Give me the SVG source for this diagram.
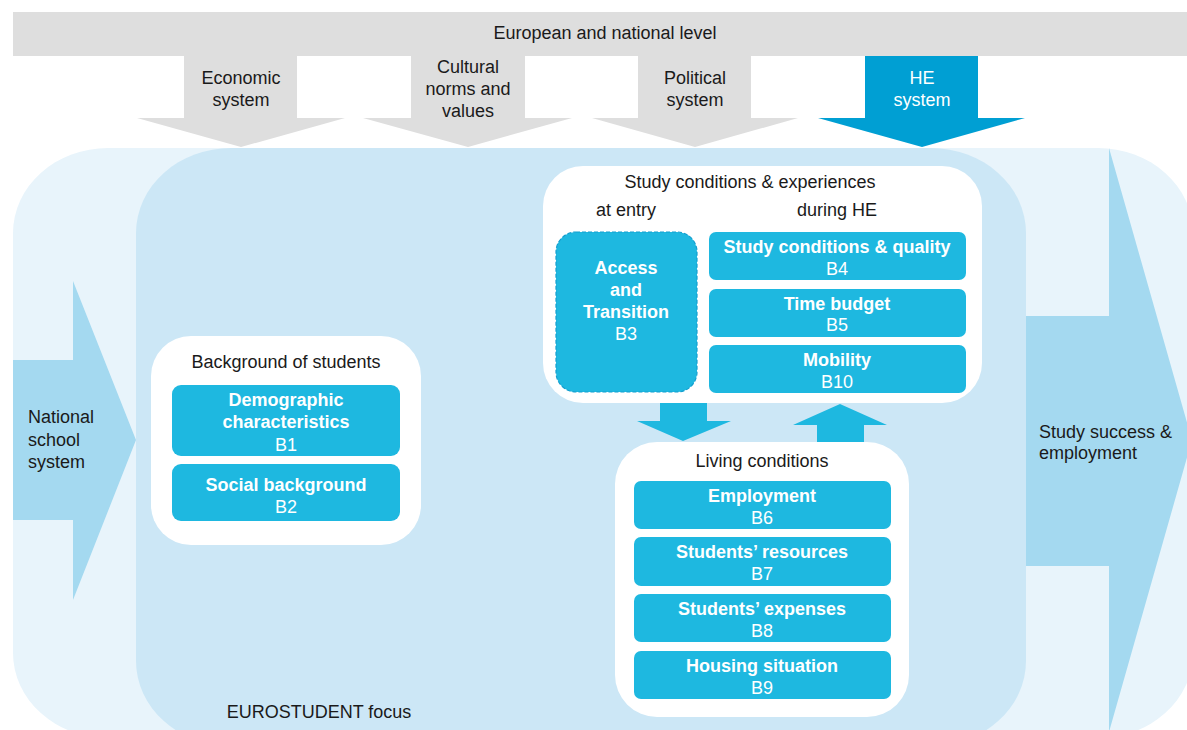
<svg xmlns="http://www.w3.org/2000/svg" width="1187" height="730" viewBox="0 0 1187 730">
<style>
text{font-family:"Liberation Sans",Arial,sans-serif;font-size:18px;fill:#1a1a1a}
.c{text-anchor:middle}
.w{fill:#fff}
.b{font-weight:bold;fill:#fff}
.box{fill:#1eb8e0}
.panel{fill:#fff}
.gray{fill:#dedede}
.arr{fill:#a4d9f0}
.blue{fill:#1eb8e0}
</style>
<rect width="1187" height="730" fill="#fff"/>
<!-- background areas -->
<g id="outer">
<rect x="13" y="148" width="1180" height="590" rx="95" ry="85" fill="#e8f4fb"/>
</g>
<g id="eurostudent-focus">
<rect x="136" y="148" width="890" height="598" rx="95" ry="85" fill="#cce7f6"/>
<text x="319" y="718" class="c">EUROSTUDENT focus</text>
</g>
<!-- top level -->
<g id="european-level">
<rect x="13" y="12" width="1174" height="44" class="gray"/>
<text x="605" y="39" class="c">European and national level</text>
</g>
<g id="economic">
<polygon class="gray" points="184,56 297,56 297,118 345,118 241,147 137,118 184,118"/>
<text x="241" y="84" class="c">Economic</text>
<text x="241" y="106" class="c">system</text>
</g>
<g id="cultural">
<polygon class="gray" points="411,56 525,56 525,118 572,118 468,147 363,118 411,118"/>
<text x="468" y="73" class="c">Cultural</text>
<text x="468" y="95" class="c">norms and</text>
<text x="468" y="117" class="c">values</text>
</g>
<g id="political">
<polygon class="gray" points="638,56 751,56 751,118 798,118 695,147 592,118 638,118"/>
<text x="695" y="84" class="c">Political</text>
<text x="695" y="106" class="c">system</text>
</g>
<g id="he-system">
<polygon fill="#009fd3" points="865,56 978,56 978,118 1025,118 922,147 818,118 865,118"/>
<text x="922" y="84" class="c w">HE</text>
<text x="922" y="106" class="c w">system</text>
</g>
<!-- side arrows -->
<g id="national-school">
<polygon class="arr" points="13,360 73,360 73,281 136,440 73,600 73,520 13,520"/>
<text x="28" y="423">National</text>
<text x="28" y="446">school</text>
<text x="28" y="468">system</text>
</g>
<g id="study-success">
<polygon class="arr" points="1026,316 1109,316 1109,148 1192,440 1109,732 1109,566 1026,566"/>
<text x="1039" y="438">Study success &amp;</text>
<text x="1039" y="459">employment</text>
</g>
<!-- connectors -->
<g id="connectors">
<polygon class="blue" points="660,403 707,403 707,421 731,421 683,441 637,421 660,421"/>
<polygon class="blue" points="817,443 864,443 864,425 887,425 840,404 793,425 817,425"/>
</g>
<!-- background of students -->
<g id="background">
<rect x="151" y="336" width="270" height="209" rx="40" class="panel"/>
<text x="286" y="368" class="c">Background of students</text>
</g>
<g id="b1">
<rect x="172" y="385" width="228" height="71" rx="9" class="box"/>
<text x="286" y="406" class="c b">Demographic</text>
<text x="286" y="428" class="c b">characteristics</text>
<text x="286" y="451" class="c w">B1</text>
</g>
<g id="b2">
<rect x="172" y="464" width="228" height="57" rx="9" class="box"/>
<text x="286" y="491" class="c b">Social background</text>
<text x="286" y="513" class="c w">B2</text>
</g>
<!-- study conditions -->
<g id="study-conditions">
<rect x="543" y="166" width="439" height="237" rx="40" class="panel"/>
<text x="750" y="188" class="c">Study conditions &amp; experiences</text>
<text x="626" y="216" class="c">at entry</text>
<text x="837" y="216" class="c">during HE</text>
</g>
<g id="b3">
<rect x="556" y="232" width="141" height="160" rx="20" class="box" stroke="#139fcf" stroke-width="1.2" stroke-dasharray="4 2"/>
<text x="626" y="274" class="c b">Access</text>
<text x="626" y="296" class="c b">and</text>
<text x="626" y="318" class="c b">Transition</text>
<text x="626" y="340" class="c w">B3</text>
</g>
<g id="b4">
<rect x="709" y="232" width="257" height="48" rx="7" class="box"/>
<text x="837" y="253" class="c b">Study conditions &amp; quality</text>
<text x="837" y="275" class="c w">B4</text>
</g>
<g id="b5">
<rect x="709" y="289" width="257" height="48" rx="7" class="box"/>
<text x="837" y="310" class="c b">Time budget</text>
<text x="837" y="331" class="c w">B5</text>
</g>
<g id="b10">
<rect x="709" y="345" width="257" height="48" rx="7" class="box"/>
<text x="837" y="366" class="c b">Mobility</text>
<text x="837" y="388" class="c w">B10</text>
</g>
<!-- living conditions -->
<g id="living-conditions">
<rect x="615" y="442" width="294" height="275" rx="42" class="panel"/>
<text x="762" y="467" class="c">Living conditions</text>
</g>
<g id="b6">
<rect x="634" y="481" width="257" height="48" rx="7" class="box"/>
<text x="762" y="502" class="c b">Employment</text>
<text x="762" y="524" class="c w">B6</text>
</g>
<g id="b7">
<rect x="634" y="537" width="257" height="49" rx="7" class="box"/>
<text x="762" y="558" class="c b">Students’ resources</text>
<text x="762" y="580" class="c w">B7</text>
</g>
<g id="b8">
<rect x="634" y="594" width="257" height="48" rx="7" class="box"/>
<text x="762" y="615" class="c b">Students’ expenses</text>
<text x="762" y="637" class="c w">B8</text>
</g>
<g id="b9">
<rect x="634" y="651" width="257" height="48" rx="7" class="box"/>
<text x="762" y="672" class="c b">Housing situation</text>
<text x="762" y="694" class="c w">B9</text>
</g>
</svg>
